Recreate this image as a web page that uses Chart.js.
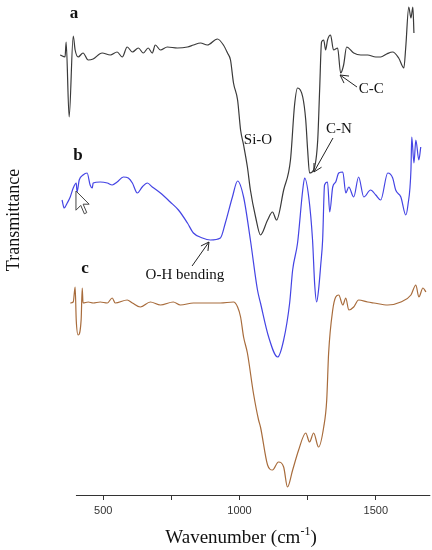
<!DOCTYPE html>
<html>
<head>
<meta charset="utf-8">
<script src="https://cdn.jsdelivr.net/npm/chart.js@4.4.1/dist/chart.umd.min.js"></script>
<style>
  body { margin: 0; background: #fff; }
  canvas { display: block; }
</style>
</head>
<body>
<canvas id="chart" width="432" height="550"></canvas>
<script>
// wavenumber (cm-1) and transmittance (arbitrary offset units)
var aWn = [342, 360, 364, 375, 390, 397, 408, 426, 445, 463,
  496, 526, 551, 570, 588, 607, 629, 647, 665, 680,
  691, 710, 735, 772, 809, 831, 857, 882, 919, 941,
  956, 967, 978, 993, 1004, 1015, 1029, 1040, 1059, 1077,
  1103, 1121, 1136, 1162, 1187, 1202, 1213, 1232, 1243, 1250,
  1257, 1272, 1287, 1294, 1301, 1309, 1316, 1323, 1334, 1345,
  1360, 1371, 1382, 1393, 1419, 1445, 1470, 1500, 1518, 1540,
  1562, 1584, 1603, 1610, 1621, 1629, 1636, 1640];
var aT = [440, 438, 453, 378, 459, 445, 438, 442, 435, 436,
  442, 440, 443, 438, 448, 443, 447, 442, 447, 442,
  450, 445, 448, 447, 448, 450, 452, 450, 456, 450,
  442, 435, 412, 395, 365, 350, 328, 305, 278, 260,
  275, 283, 275, 305, 335, 390, 407, 398, 375, 345,
  322, 325, 355, 405, 453, 455, 445, 455, 460, 445,
  447, 422, 430, 448, 442, 440, 440, 438, 438, 441,
  443, 437, 427, 448, 488, 477, 488, 462];

var bWn = [349, 357, 368, 379, 390, 401, 404, 412, 426, 441,
  452, 460, 463, 489, 515, 533, 551, 574, 592, 607,
  625, 643, 662, 680, 710, 746, 776, 809, 831, 864,
  893, 930, 948, 974, 993, 1015, 1040, 1066, 1077, 1107,
  1140, 1162, 1184, 1195, 1213, 1232, 1239, 1254, 1268, 1276,
  1283, 1290, 1298, 1305, 1312, 1323, 1331, 1342, 1353, 1364,
  1379, 1390, 1401, 1419, 1437, 1456, 1481, 1500, 1518, 1544,
  1562, 1573, 1592, 1610, 1618, 1629, 1632, 1640, 1647, 1658,
  1665];
var bT = [295, 287, 292, 298, 307, 312, 303, 315, 320, 322,
  310, 307, 312, 313, 312, 310, 313, 318, 317, 312,
  302, 308, 312, 308, 302, 293, 285, 272, 262, 257,
  255, 257, 272, 298, 314, 298, 255, 205, 192, 158,
  138, 155, 192, 225, 252, 305, 317, 298, 255, 210,
  193, 205, 230, 255, 310, 313, 283, 308, 313, 322,
  323, 302, 308, 298, 318, 298, 305, 300, 295, 322,
  317, 305, 298, 280, 290, 325, 358, 332, 355, 335,
  348];

var cWn = [379, 390, 397, 401, 408, 419, 423, 426, 445, 463,
  489, 515, 533, 544, 588, 607, 636, 673, 710, 757,
  783, 831, 882, 930, 978, 993, 1004, 1015, 1029, 1051,
  1070, 1077, 1103, 1121, 1143, 1162, 1176, 1195, 1217, 1243,
  1257, 1272, 1290, 1309, 1320, 1327, 1342, 1353, 1364, 1379,
  1390, 1401, 1419, 1437, 1470, 1493, 1544, 1592, 1629, 1647,
  1658, 1673, 1684];
var cT = [192, 193, 208, 175, 160, 175, 207, 192, 193, 192,
  193, 192, 197, 192, 195, 192, 188, 193, 190, 193,
  190, 192, 192, 192, 193, 188, 178, 158, 142, 102,
  75, 68, 30, 25, 33, 28, 8, 25, 45, 62,
  53, 62, 48, 68, 95, 142, 185, 198, 200, 190,
  197, 185, 188, 195, 193, 192, 190, 193, 200, 210,
  198, 207, 203];

var tickValues = [500, 750, 1000, 1250, 1500];
var tickLabels = [500, 1000, 1500];

// labels and arrows, in data units
var seriesLabels = [
  { text: 'a', wn: 393, t: 481 },
  { text: 'b', wn: 407, t: 339 },
  { text: 'c', wn: 433, t: 226 }
];
var bandLabels = [
  { text: 'Si-O', wn: 1068, t: 355 },
  { text: 'C-N', wn: 1365, t: 366 },
  { text: 'C-C', wn: 1483, t: 406 },
  { text: 'O-H bending', wn: 800, t: 220 }
];
var bandArrows = [
  { from: [1343, 357], to: [1273, 323] },
  { from: [1431, 408], to: [1369, 420] },
  { from: [826, 229], to: [888, 253] }
];
var cursorAt = [400, 304];

function toPoints(wn, t) {
  var out = [], i;
  for (i = 0; i < wn.length; i++) out.push({ x: wn[i], y: t[i] });
  return out;
}

function trace(label, wn, t, color) {
  return {
    label: label,
    data: toPoints(wn, t),
    borderColor: color,
    borderWidth: 1.2,
    pointRadius: 0,
    cubicInterpolationMode: 'monotone',
    clip: false
  };
}

var decorations = {
  id: 'decorations',
  afterDraw: function(chart) {
    var ctx = chart.ctx, xs = chart.scales.x, ys = chart.scales.y;
    var bottom = chart.chartArea.bottom;
    var i, p, q, ang, dx, dy, x, y;

    ctx.save();
    // axis line only over the measured range
    ctx.strokeStyle = '#333';
    ctx.lineWidth = 1.2;
    ctx.beginPath();
    ctx.moveTo(xs.getPixelForValue(400), bottom + 0.5);
    ctx.lineTo(xs.getPixelForValue(1700), bottom + 0.5);
    ctx.stroke();

    ctx.fillStyle = '#111';
    ctx.textAlign = 'center';
    ctx.textBaseline = 'middle';
    ctx.font = 'bold 17px "Liberation Serif"';
    seriesLabels.forEach(function(l) {
      ctx.fillText(l.text, xs.getPixelForValue(l.wn), ys.getPixelForValue(l.t));
    });
    ctx.font = '15px "Liberation Serif"';
    bandLabels.forEach(function(l) {
      ctx.fillText(l.text, xs.getPixelForValue(l.wn), ys.getPixelForValue(l.t));
    });

    ctx.strokeStyle = '#222';
    ctx.lineWidth = 1;
    bandArrows.forEach(function(a) {
      p = [xs.getPixelForValue(a.from[0]), ys.getPixelForValue(a.from[1])];
      q = [xs.getPixelForValue(a.to[0]), ys.getPixelForValue(a.to[1])];
      ang = Math.atan2(q[1] - p[1], q[0] - p[0]);
      ctx.beginPath();
      ctx.moveTo(p[0], p[1]);
      ctx.lineTo(q[0], q[1]);
      for (i = -1; i <= 1; i += 2) {
        ctx.moveTo(q[0], q[1]);
        ctx.lineTo(q[0] - 9 * Math.cos(ang + i * 0.5), q[1] - 9 * Math.sin(ang + i * 0.5));
      }
      ctx.stroke();
    });

    // mouse pointer left in the original screenshot
    x = xs.getPixelForValue(cursorAt[0]);
    y = ys.getPixelForValue(cursorAt[1]);
    var shape = [[0, 0], [0, 16], [4, 12], [7, 19], [9, 18], [6, 11], [11, 11]];
    ctx.beginPath();
    shape.forEach(function(s, k) {
      dx = x + s[0] * 1.2; dy = y + s[1] * 1.2;
      if (k === 0) ctx.moveTo(dx, dy); else ctx.lineTo(dx, dy);
    });
    ctx.closePath();
    ctx.fillStyle = '#fff';
    ctx.fill();
    ctx.strokeStyle = '#444';
    ctx.stroke();

    // axis titles
    ctx.fillStyle = '#111';
    ctx.textBaseline = 'alphabetic';
    ctx.font = '19px "Liberation Serif"';
    var main = 'Wavenumber (cm', sup = '-1', close = ')';
    var wMain = ctx.measureText(main).width, wClose = ctx.measureText(close).width;
    ctx.font = '12px "Liberation Serif"';
    var wSup = ctx.measureText(sup).width;
    var x0 = 241 - (wMain + wSup + wClose) / 2;
    ctx.textAlign = 'left';
    ctx.font = '19px "Liberation Serif"';
    ctx.fillText(main, x0, 543);
    ctx.fillText(close, x0 + wMain + wSup, 543);
    ctx.font = '12px "Liberation Serif"';
    ctx.fillText(sup, x0 + wMain, 535);

    ctx.translate(19, 220);
    ctx.rotate(-Math.PI / 2);
    ctx.textAlign = 'center';
    ctx.font = '18px "Liberation Serif"';
    ctx.fillText('Transmittance', 0, 0);
    ctx.restore();
  }
};

var chart = new Chart(document.getElementById('chart'), {
  type: 'line',
  data: {
    datasets: [
      trace('a', aWn, aT, '#3a3a3a'),
      trace('b', bWn, bT, '#4444e4'),
      trace('c', cWn, cT, '#a86c3c')
    ]
  },
  options: {
    responsive: false,
    animation: false,
    layout: { padding: { left: 59.6, right: 1.7, top: 0, bottom: 0 } },
    plugins: { legend: { display: false }, tooltip: { enabled: false } },
    scales: {
      x: {
        type: 'linear',
        min: 340,
        max: 1700,
        afterBuildTicks: function(scale) {
          scale.ticks = tickValues.map(function(v) { return { value: v }; });
        },
        afterFit: function(scale) { scale.height = 55; },
        ticks: {
          autoSkip: false,
          maxRotation: 0,
          padding: 4,
          color: '#333',
          font: { family: 'Liberation Sans', size: 11 },
          callback: function(v) { return tickLabels.indexOf(v) >= 0 ? String(v) : ''; }
        },
        grid: { drawOnChartArea: false, drawTicks: true, tickLength: 5, color: '#333' },
        border: { display: false }
      },
      y: { display: false, min: 0, max: 495 }
    }
  },
  plugins: [decorations]
});
</script>
</body>
</html>
